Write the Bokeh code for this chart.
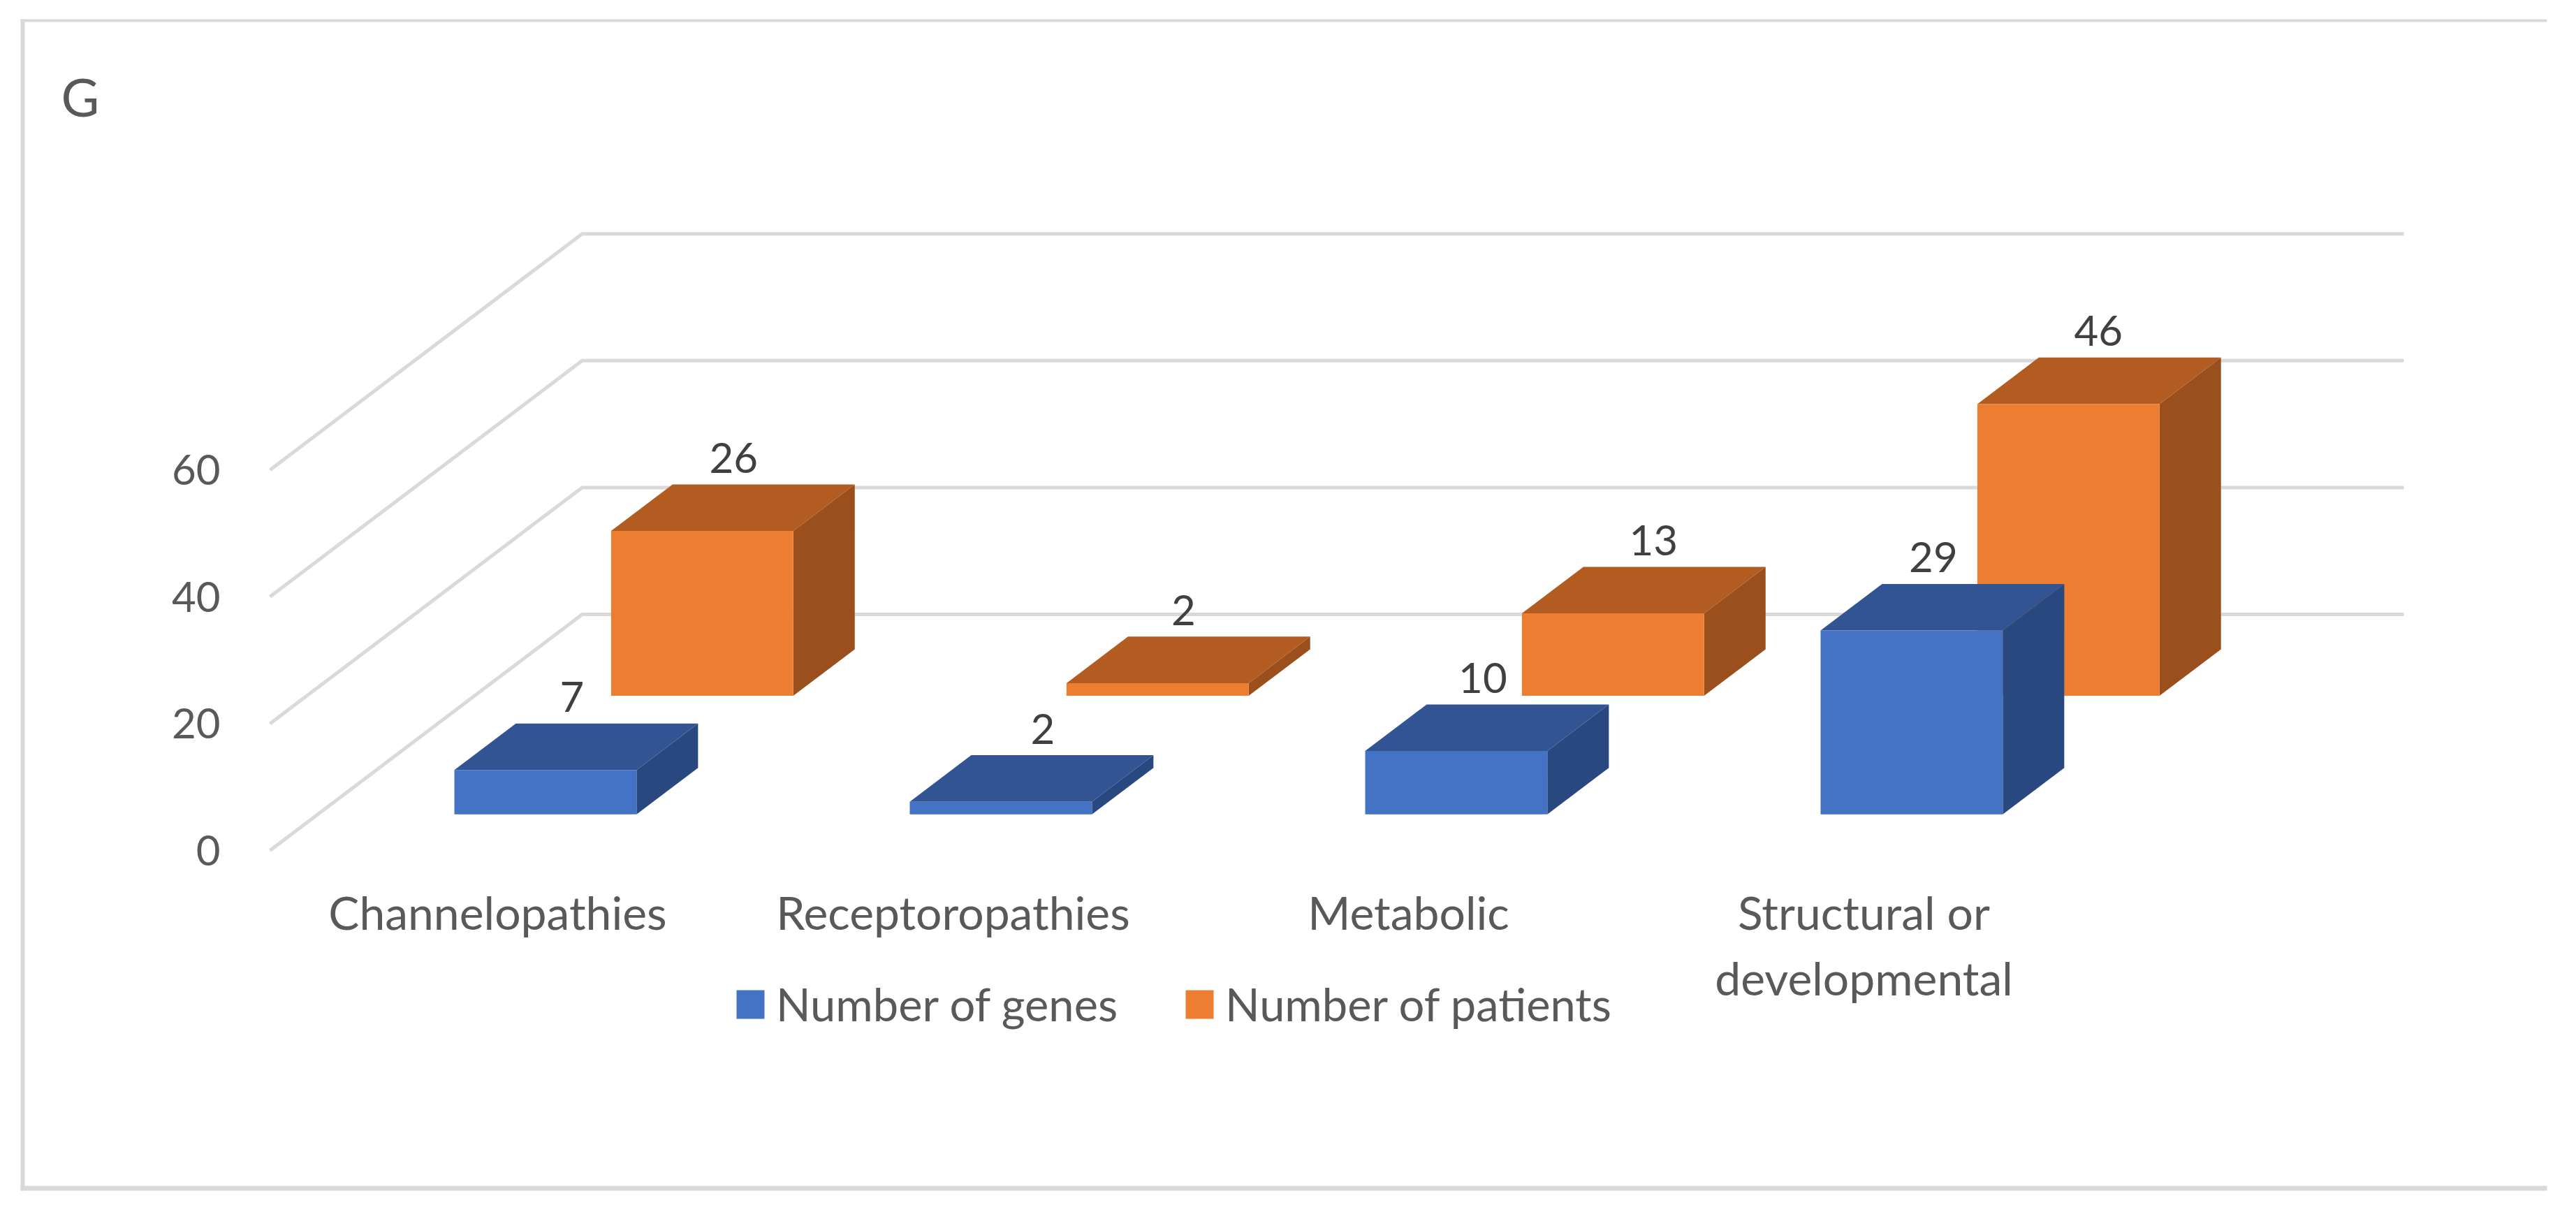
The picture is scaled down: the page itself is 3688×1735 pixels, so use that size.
from bokeh.plotting import figure
from bokeh.models import Range1d, FixedTicker, Legend, LegendItem, Label
from bokeh.core.properties import value
from bokeh.embed import file_html
from bokeh.resources import INLINE

categories = ["Channelopathies", "Receptoropathies", "Metabolic", "Structural or\ndevelopmental"]
genes = [7, 2, 10, 29]
patients = [26, 2, 13, 46]
y_ticks = [0, 20, 40, 60]
series_names = ["Number of genes", "Number of patients"]

# oblique projection of the 3-D chart, from category/value units to the page
PX_PER_CAT = 652.0
PX_PER_UNIT = 9.08
DEPTH_X = 447.0 / PX_PER_CAT   # categories moved per full floor depth
DEPTH_Y = 338.0 / PX_PER_UNIT  # value units moved per full floor depth
BAR_W = 0.4
BAR_D = 0.197
FONT = "Lato"
TEXT_SIZE = "66px"
LEGEND_SIZE = "65px"
NUM_SIZE = "60px"
TICK_COLOR = "#595959"
LABEL_COLOR = "#404040"
GRID_COLOR = "#D9D9D9"

FL, FR, FT, FB = 16, 3660, 16, 1716     # plot frame on the image
X0, Y0 = 386, 1217                      # origin on the image
W, H = 3672, 1719


def px_x(px):
    return (px - X0) / PX_PER_CAT


def px_y(py):
    return (Y0 - py) / PX_PER_UNIT


p = figure(
    width=W, height=H, output_backend="svg", toolbar_location=None, tools="",
    x_range=Range1d(px_x(FL), px_x(FR)),
    y_range=Range1d(px_y(FB), px_y(FT)),
    min_border_left=FL, min_border_right=W - FR,
    min_border_top=FT, min_border_bottom=H - FB,
    background_fill_color="white", border_fill_color="white",
    outline_line_color=None,
)
p.grid.visible = False

# chart border: left, top and bottom edges only
p.quad(
    left=[px_x(29), px_x(29), px_x(29)],
    right=[px_x(35), px_x(3646), px_x(3646)],
    top=[px_y(27), px_y(27), px_y(1697)],
    bottom=[px_y(1704), px_y(31), px_y(1704)],
    fill_color=GRID_COLOR, line_color=None,
)

# grid: floor edge + back wall
n = len(categories)
p.multi_line(
    xs=[[0, DEPTH_X, DEPTH_X + n] for _ in y_ticks],
    ys=[[t, t + DEPTH_Y, t + DEPTH_Y] for t in y_ticks],
    line_color=GRID_COLOR, line_width=5,
)


def bars(vals, depth, face, top, side, label_dx):
    xl = [i + 0.5 - BAR_W / 2 + depth * DEPTH_X for i in range(n)]
    xr = [x + BAR_W for x in xl]
    y0 = depth * DEPTH_Y
    dx, dy = BAR_D * DEPTH_X, BAR_D * DEPTH_Y
    p.patches(
        xs=[[r, r + dx, r + dx, r] for r in xr],
        ys=[[y0, y0 + dy, y0 + dy + v, y0 + v] for v in vals],
        fill_color=side, line_color=None,
    )
    p.patches(
        xs=[[l, r, r + dx, l + dx] for l, r in zip(xl, xr)],
        ys=[[y0 + v, y0 + v, y0 + v + dy, y0 + v + dy] for v in vals],
        fill_color=top, line_color=None,
    )
    front = p.quad(left=xl, right=xr, bottom=[y0] * n, top=[y0 + v for v in vals],
                   fill_color=face, line_color=None)
    p.text(
        x=[l + BAR_W / 2 + dx / 2 for l in xl],
        y=[y0 + dy + v for v in vals],
        text=[str(v) for v in vals],
        x_offset=label_dx,
        text_font=value(FONT), text_font_size=value(NUM_SIZE), text_color=LABEL_COLOR,
        text_align="center", text_baseline="middle", y_offset=-38,
    )
    return front


r_pat = bars(patients, 0.655, "#ED7D31", "#B35C22", "#9A4F1C", [1, -7, 14, -1])
r_gen = bars(genes, 0.153, "#4472C4", "#325493", "#2A4880", [-6, 16, -6, -13])

# axes, pinned inside the frame
ax = p.yaxis[0]
ax.fixed_location = px_x(340)
ax.ticker = FixedTicker(ticks=y_ticks)
ax.major_label_text_font = FONT
ax.major_label_text_font_size = NUM_SIZE
ax.major_label_text_color = TICK_COLOR
ax.major_label_standoff = 19
ax.axis_line_color = None
ax.major_tick_line_color = None
ax.minor_tick_line_color = None

xa = p.xaxis[0]
xa.fixed_location = px_y(1243)
xa.ticker = FixedTicker(ticks=[i + 0.5 for i in range(n)])
xa.major_label_overrides = {i + 0.5: c for i, c in enumerate(categories)}
xa.major_label_text_font = FONT
xa.major_label_text_font_size = TEXT_SIZE
xa.major_label_text_color = TICK_COLOR
xa.major_label_standoff = 16
xa.axis_line_color = None
xa.major_tick_line_color = None
xa.minor_tick_line_color = None

# legend
legend = Legend(
    items=[LegendItem(label=series_names[0], renderers=[r_gen]),
           LegendItem(label=series_names[1], renderers=[r_pat])],
    orientation="horizontal", location=(1049 - FL, FB - 1476),
    label_text_font=FONT, label_text_font_size=LEGEND_SIZE, label_text_color=TICK_COLOR,
    glyph_width=50, glyph_height=51, label_standoff=12, spacing=92,
    padding=0, margin=0, border_line_color=None, background_fill_color=None,
)
p.add_layout(legend)

# panel letter
p.add_layout(Label(
    x=px_x(87), y=px_y(137), text="G",
    text_font=FONT, text_font_size="75px", text_color=TICK_COLOR, text_baseline="middle",
))

open("out.html", "w").write(file_html(p, INLINE))
